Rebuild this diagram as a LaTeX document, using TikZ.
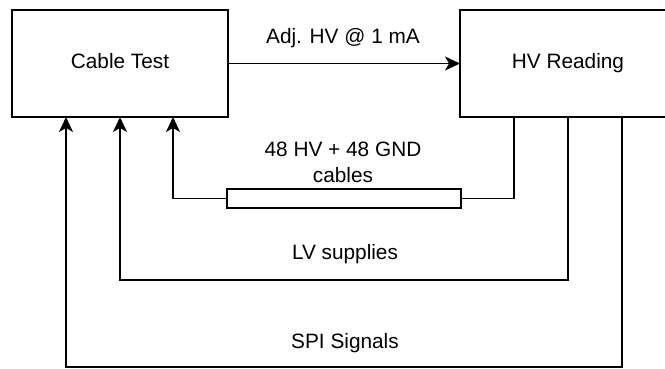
\documentclass[tikz,border=0pt]{standalone}
\usepackage{fontspec}
\setmainfont{Liberation Sans}
\usepackage{tikz}
\usetikzlibrary{arrows.meta,positioning}
\newcommand{\lab}{\fontsize{20.8}{26}\selectfont}

\begin{document}
\begin{tikzpicture}[x=1pt, y=-1pt,
    block/.style={draw, line width=1.8pt, outer sep=0pt, inner sep=0pt, minimum width=216pt, minimum height=107pt, font=\lab, text height=15pt, text depth=4pt},
    bundlebox/.style={draw, line width=1.8pt, outer sep=0pt, inner sep=0pt, minimum width=234pt, minimum height=19pt},
    wire/.style={line width=1.8pt},
    arrow/.style={wire, -{Stealth[length=15pt, width=14pt, inset=4pt]}},
    lbl/.style={font=\lab, align=center, inner sep=0pt}
  ]
    \useasboundingbox (0,0) rectangle (665,369);
    \node[block] (test) at (120,63.5) {Cable Test};
    \node[block, right=232pt of test] (hv) {HV Reading};
    \node[bundlebox] (bundle) at (344,198.5) {};
    \node[lbl, anchor=base] (adj) at (343,43.3) {Adj. HV @ 1 mA};
    \node[lbl] (cables) at (343,162.5) {48 HV + 48 GND\\cables};
    \node[lbl, anchor=base] (lv) at (345,259) {LV supplies};
    \node[lbl, anchor=base] (spi) at (345,348) {SPI Signals};
    \draw[arrow] (test) -- (hv);
    \draw[wire] ([xshift=54pt]hv.south west) |- (bundle.east);
    \draw[arrow] (bundle.west) -| ([xshift=161pt]test.south west);
    \draw[arrow] ([xshift=108pt]hv.south west) -- ++(0,163) -| (test.south);
    \draw[arrow] ([xshift=162pt]hv.south west) -- ++(0,250) -| ([xshift=54pt]test.south west);
  \end{tikzpicture}
\end{document}
